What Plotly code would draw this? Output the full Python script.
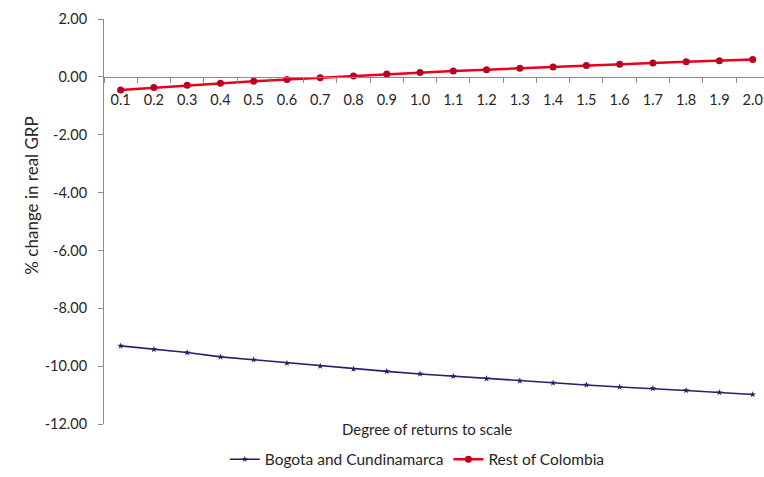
import plotly.graph_objects as go

categories = ["0.1", "0.2", "0.3", "0.4", "0.5", "0.6", "0.7", "0.8", "0.9", "1.0",
              "1.1", "1.2", "1.3", "1.4", "1.5", "1.6", "1.7", "1.8", "1.9", "2.0"]
bogota = [-9.30, -9.42, -9.53, -9.68, -9.78, -9.90, -10.00, -10.10, -10.18, -10.27,
          -10.35, -10.43, -10.51, -10.58, -10.65, -10.72, -10.77, -10.84, -10.91, -10.98]
rest = [-0.45, -0.37, -0.29, -0.22, -0.15, -0.09, -0.03, 0.03, 0.10, 0.15,
        0.20, 0.25, 0.30, 0.34, 0.39, 0.44, 0.48, 0.52, 0.56, 0.60]
y_ticks = [2, 0, -2, -4, -6, -8, -10, -12]
y_ticktext = [f"{v:.2f}" for v in y_ticks]

FONT = "Lato"
TXT = "#262626"
AX = "#8C8C8C"

fig = go.Figure()
fig.add_trace(go.Scatter(
    x=categories, y=bogota, name="Bogota and Cundinamarca", mode="lines+markers",
    line=dict(color="#24206B", width=1.6),
    marker=dict(symbol="star", size=5, color="#24206B"),
))
fig.add_trace(go.Scatter(
    x=categories, y=rest, name="Rest of Colombia", mode="lines+markers",
    line=dict(color="#E8001F", width=2.5),
    marker=dict(symbol="circle", size=7, color="#B80020"),
))

fig.update_layout(
    width=764, height=477,
    margin=dict(l=104, r=0, t=19, b=50),
    paper_bgcolor="white", plot_bgcolor="white",
    font=dict(family=FONT, size=15, color=TXT),
    showlegend=True,
    legend=dict(orientation="h", x=0.183, xanchor="left", y=-0.088, yanchor="middle",
                font=dict(size=15.5, color=TXT), itemwidth=30, tracegroupgap=0),
    xaxis=dict(
        type="category", range=[-0.5, 19.34],
        anchor="free", position=12 / 14, automargin=False,
        showline=True, linecolor=AX, linewidth=1,
        ticks="outside", ticklen=5, tickcolor=AX, tickson="boundaries",
        ticklabelstandoff=10, ticklabeloverflow="allow",
        showgrid=False, zeroline=False,
        tickfont=dict(size=14.5, color=TXT),
    ),
    yaxis=dict(
        range=[-12, 2], tickvals=y_ticks, ticktext=y_ticktext, automargin=False,
        showline=True, linecolor=AX, linewidth=1,
        ticks="outside", ticklen=5, tickcolor=AX, ticklabelstandoff=8,
        showgrid=False, zeroline=False,
        tickfont=dict(size=14.5, color=TXT),
    ),
    annotations=[
        dict(text="Degree of returns to scale", xref="paper", yref="paper",
             x=0.358, y=-0.012, xanchor="left", yanchor="middle", showarrow=False,
             font=dict(size=15, color=TXT)),
        dict(text="% change in real GRP", xref="paper", yref="paper",
             x=-0.109, y=0.564, xanchor="center", yanchor="middle", showarrow=False,
             textangle=-90, font=dict(size=17, color=TXT)),
    ],
)

fig.write_html(
    "out.html",
    config={"displayModeBar": False},
    post_script="document.body.style.margin='0';document.body.style.overflow='hidden';",
)
